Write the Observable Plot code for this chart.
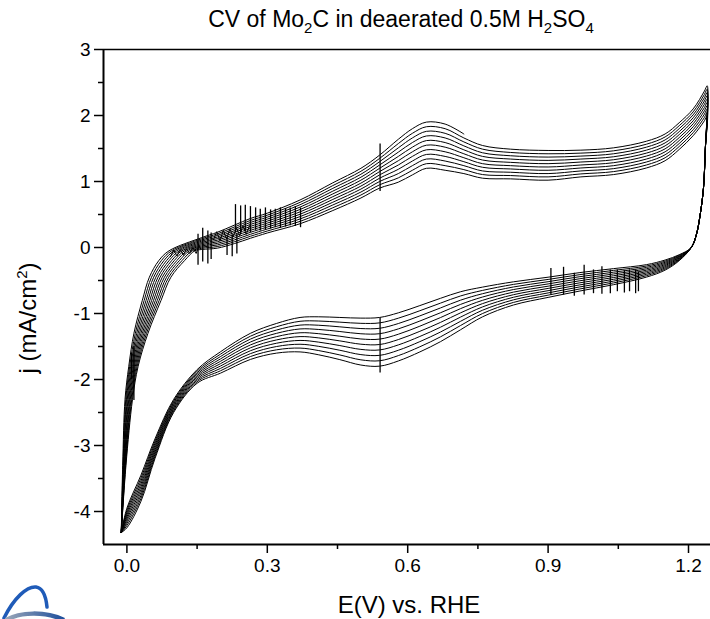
<!DOCTYPE html>
<html>
<head>
<meta charset="utf-8">
<script src="https://cdn.jsdelivr.net/npm/d3@7"></script>
<script src="https://cdn.jsdelivr.net/npm/@observablehq/plot@0.6"></script>
<style>
  html, body { margin: 0; padding: 0; background: #fff; overflow: hidden; }
  #wrap { position: relative; width: 710px; height: 619px; font-family: "Liberation Sans", Arial, sans-serif; color: #000; }
  #chart { position: absolute; left: 0; top: 0; }
  .lbl { position: absolute; white-space: nowrap; line-height: 24px; font-size: 23px; }
  #title { left: 151px; width: 500px; top: 7px; text-align: center; }
  #xlabel { left: 259px; width: 300px; top: 593px; text-align: center; font-size: 24px; }
  #ylabel { left: 28px; top: 318px; transform: translate(-50%, -50%) rotate(-90deg); font-size: 24px; }
  sub { font-size: 15px; vertical-align: -6px; line-height: 0; }
  sup { font-size: 15px; vertical-align: 9px; line-height: 0; }
  #logo { position: absolute; left: 0; top: 560px; }
</style>
</head>
<body>
<div id="wrap">
  <div id="chart"></div>
  <div id="title" class="lbl">CV of Mo<sub>2</sub>C in deaerated 0.5M H<sub>2</sub>SO<sub>4</sub></div>
  <div id="xlabel" class="lbl">E(V) vs. RHE</div>
  <div id="ylabel" class="lbl">j (mA/cm<sup>2</sup>)</div>
  <svg id="logo" width="120" height="59" viewBox="0 0 120 59">
    <defs>
      <linearGradient id="lg" x1="0" x2="1"><stop offset="0" stop-color="#9aa6b8"/><stop offset="1" stop-color="#1d4f9c"/></linearGradient>
    </defs>
    <path d="M4,58 C14,38 27,26 36,27 C43,28 46,37 47,47" fill="none" stroke="#1f5bb8" stroke-width="3.5" stroke-linecap="round"/>
    <path d="M6,60 C20,52 45,51 64,60" fill="none" stroke="url(#lg)" stroke-width="4.5"/>
  </svg>
</div>
<script>
// ---- axis ticks ----
const xTicks = [0, 0.3, 0.6, 0.9, 1.2];
const xMinorTicks = [0.15, 0.45, 0.75, 1.05];
const yTicks = [-4, -3, -2, -1, 0, 1, 2, 3];
const yMinorTicks = [-3.5, -2.5, -1.5, -0.5, 0.5, 1.5, 2.5];

// ---- cycles (c1 = last, partial cycle, highest anodic curve) ----
const cycles = ["c1","c2","c3","c4","c5","c6","c7","c8","c9","c10","c11"];

// cathodic vertex (shared)
const vertexLow = [-0.012, -4.32];

// anodic branch, steep part: one row per current level, E for each cycle
const upperSteepY = [-3.3, -2.3, -1.8, -1.3, -0.8, -0.45, -0.2, -0.05];
const upperSteepX = [
  [-0.009, -0.0083, -0.0076, -0.0069, -0.0062, -0.0055, -0.0048, -0.0041, -0.0034, -0.0027, -0.002],
  [-0.004, -0.0024, -0.0008, 0.0008, 0.0024, 0.004, 0.0056, 0.0072, 0.0088, 0.0104, 0.012],
  [0.004, 0.006, 0.008, 0.010, 0.012, 0.014, 0.016, 0.018, 0.020, 0.022, 0.024],
  [0.015, 0.018, 0.021, 0.024, 0.027, 0.030, 0.033, 0.036, 0.039, 0.042, 0.045],
  [0.033, 0.037, 0.041, 0.045, 0.049, 0.053, 0.057, 0.061, 0.065, 0.069, 0.073],
  [0.048, 0.0526, 0.0572, 0.0618, 0.0664, 0.071, 0.0756, 0.0802, 0.0848, 0.0894, 0.094],
  [0.068, 0.0735, 0.079, 0.0845, 0.090, 0.0955, 0.101, 0.1065, 0.112, 0.1175, 0.123],
  [0.090, 0.0955, 0.101, 0.1065, 0.112, 0.1175, 0.123, 0.1285, 0.134, 0.1395, 0.145]
];

// anodic branch: one row per potential, j for each cycle (null = not recorded)
const upperX = [0.16, 0.193, 0.23, 0.264, 0.3, 0.37, 0.44, 0.5, 0.54, 0.58, 0.61, 0.64, 0.68, 0.72,
                0.76, 0.82, 0.9, 0.97, 1.04, 1.11, 1.15, 1.18, 1.21, 1.234, 1.24];
const upperY = [
  [0.15, 0.132, 0.114, 0.096, 0.078, 0.06, 0.042, 0.024, 0.006, -0.012, -0.03],
  [0.23, 0.206, 0.182, 0.158, 0.134, 0.11, 0.086, 0.062, 0.038, 0.014, -0.01],
  [0.34, 0.312, 0.284, 0.256, 0.228, 0.20, 0.172, 0.144, 0.116, 0.088, 0.06],
  [0.44, 0.41, 0.38, 0.35, 0.32, 0.29, 0.26, 0.23, 0.20, 0.17, 0.14],
  [0.52, 0.49, 0.46, 0.43, 0.40, 0.37, 0.34, 0.31, 0.28, 0.25, 0.22],
  [0.72, 0.684, 0.648, 0.612, 0.576, 0.54, 0.504, 0.468, 0.432, 0.396, 0.36],
  [0.98, 0.938, 0.896, 0.854, 0.812, 0.77, 0.728, 0.686, 0.644, 0.602, 0.56],
  [1.20, 1.155, 1.11, 1.065, 1.02, 0.975, 0.93, 0.885, 0.84, 0.795, 0.75],
  [1.40, 1.35, 1.30, 1.25, 1.20, 1.15, 1.10, 1.05, 1.00, 0.95, 0.90],
  [1.64, 1.575, 1.51, 1.445, 1.38, 1.315, 1.25, 1.185, 1.12, 1.055, 0.99],
  [1.80, 1.73, 1.66, 1.59, 1.52, 1.45, 1.38, 1.31, 1.24, 1.17, 1.10],
  [1.90, 1.83, 1.76, 1.69, 1.62, 1.55, 1.48, 1.41, 1.34, 1.27, 1.20],
  [1.87, 1.80, 1.73, 1.66, 1.59, 1.52, 1.45, 1.38, 1.31, 1.24, 1.17],
  [1.72, 1.66, 1.60, 1.54, 1.48, 1.42, 1.36, 1.30, 1.24, 1.18, 1.12],
  [null, 1.545, 1.49, 1.435, 1.38, 1.325, 1.27, 1.215, 1.16, 1.105, 1.05],
  [null, 1.49, 1.44, 1.39, 1.34, 1.29, 1.24, 1.19, 1.14, 1.09, 1.04],
  [null, 1.47, 1.42, 1.37, 1.32, 1.27, 1.22, 1.17, 1.12, 1.07, 1.02],
  [null, 1.475, 1.43, 1.385, 1.34, 1.295, 1.25, 1.205, 1.16, 1.115, 1.07],
  [null, 1.51, 1.465, 1.42, 1.375, 1.33, 1.285, 1.24, 1.195, 1.15, 1.105],
  [null, 1.61, 1.565, 1.52, 1.475, 1.43, 1.385, 1.34, 1.295, 1.25, 1.205],
  [null, 1.72, 1.675, 1.63, 1.585, 1.54, 1.495, 1.45, 1.405, 1.36, 1.315],
  [null, 1.89, 1.845, 1.80, 1.755, 1.71, 1.665, 1.62, 1.575, 1.53, 1.485],
  [null, 2.10, 2.055, 2.01, 1.965, 1.92, 1.875, 1.83, 1.785, 1.74, 1.695],
  [null, 2.37, 2.32, 2.27, 2.22, 2.17, 2.12, 2.07, 2.02, 1.97, 1.92],
  [null, 2.45, 2.40, 2.35, 2.30, 2.25, 2.20, 2.15, 2.10, 2.05, 2.00]
];

// reversal at the anodic vertex (shared by all cycles)
const descentX = [1.236, 1.232, 1.225, 1.217, 1.206];
const descentY = [1.5, 0.9, 0.5, 0.2, 0.0];

// cathodic branch: one row per potential, j for cycles c2..c11
const lowerX = [1.18, 1.15, 1.11, 1.04, 0.968, 0.9, 0.826, 0.76, 0.713, 0.67, 0.626, 0.58, 0.54, 0.5,
                0.455, 0.41, 0.37, 0.32, 0.264, 0.2, 0.15, 0.1, 0.06, 0.03, 0.0];
const lowerY = [
  [-0.11, -0.12, -0.13, -0.14, -0.15, -0.16, -0.17, -0.18, -0.19, -0.20],
  [-0.19, -0.207, -0.224, -0.241, -0.258, -0.275, -0.292, -0.309, -0.326, -0.343],
  [-0.26, -0.281, -0.302, -0.323, -0.344, -0.365, -0.386, -0.407, -0.428, -0.449],
  [-0.32, -0.347, -0.374, -0.401, -0.428, -0.455, -0.482, -0.509, -0.536, -0.563],
  [-0.38, -0.411, -0.442, -0.473, -0.504, -0.535, -0.566, -0.597, -0.628, -0.659],
  [-0.45, -0.484, -0.518, -0.552, -0.586, -0.62, -0.654, -0.688, -0.722, -0.756],
  [-0.52, -0.559, -0.598, -0.637, -0.676, -0.715, -0.754, -0.793, -0.832, -0.871],
  [-0.60, -0.65, -0.70, -0.75, -0.80, -0.85, -0.90, -0.95, -1.00, -1.05],
  [-0.67, -0.734, -0.798, -0.862, -0.926, -0.99, -1.054, -1.118, -1.182, -1.246],
  [-0.77, -0.843, -0.916, -0.989, -1.062, -1.135, -1.208, -1.281, -1.354, -1.427],
  [-0.88, -0.958, -1.036, -1.114, -1.192, -1.27, -1.348, -1.426, -1.504, -1.582],
  [-0.99, -1.071, -1.152, -1.233, -1.314, -1.395, -1.476, -1.557, -1.638, -1.719],
  [-1.06, -1.142, -1.224, -1.306, -1.388, -1.47, -1.552, -1.634, -1.716, -1.798],
  [-1.07, -1.149, -1.228, -1.307, -1.386, -1.465, -1.544, -1.623, -1.702, -1.781],
  [-1.06, -1.131, -1.202, -1.273, -1.344, -1.415, -1.486, -1.557, -1.628, -1.699],
  [-1.05, -1.114, -1.178, -1.242, -1.306, -1.37, -1.434, -1.498, -1.562, -1.626],
  [-1.06, -1.118, -1.176, -1.234, -1.292, -1.35, -1.408, -1.466, -1.524, -1.582],
  [-1.15, -1.20, -1.25, -1.30, -1.35, -1.40, -1.45, -1.50, -1.55, -1.60],
  [-1.30, -1.344, -1.388, -1.432, -1.476, -1.52, -1.564, -1.608, -1.652, -1.696],
  [-1.58, -1.616, -1.652, -1.688, -1.724, -1.76, -1.796, -1.832, -1.868, -1.904],
  [-1.85, -1.873, -1.896, -1.919, -1.942, -1.965, -1.988, -2.011, -2.034, -2.057],
  [-2.30, -2.322, -2.344, -2.366, -2.388, -2.41, -2.432, -2.454, -2.476, -2.498],
  [-2.90, -2.933, -2.966, -2.999, -3.032, -3.065, -3.098, -3.131, -3.164, -3.197],
  [-3.45, -3.494, -3.538, -3.582, -3.626, -3.67, -3.714, -3.758, -3.802, -3.846],
  [-3.95, -3.983, -4.016, -4.049, -4.082, -4.115, -4.148, -4.181, -4.214, -4.247]
];

// glitches: [E, j low, j high]
const spikes = [
  [0.541, 0.85, 1.57], [0.541, -1.90, -1.07],
  [0.015, -2.32, -1.5], [0.010, -2.0, -1.6],
  [0.152, -0.27, 0.20], [0.162, -0.22, 0.29], [0.173, -0.25, 0.25], [0.180, -0.18, 0.22],
  [0.214, -0.12, 0.15], [0.225, -0.14, 0.18], [0.235, -0.10, 0.20],
  [0.232, 0.22, 0.65], [0.243, 0.20, 0.63], [0.253, 0.24, 0.64], [0.264, 0.22, 0.62],
  [0.275, 0.26, 0.60], [0.285, 0.25, 0.58], [0.296, 0.27, 0.60], [0.307, 0.28, 0.57],
  [0.317, 0.30, 0.58], [0.328, 0.29, 0.60], [0.339, 0.31, 0.59], [0.349, 0.33, 0.60],
  [0.360, 0.32, 0.62], [0.371, 0.30, 0.60],
  [0.906, -0.72, -0.32], [0.933, -0.72, -0.30], [0.956, -0.74, -0.39], [0.977, -0.72, -0.27],
  [0.997, -0.70, -0.34], [1.015, -0.71, -0.29], [1.033, -0.70, -0.34], [1.048, -0.67, -0.34],
  [1.063, -0.69, -0.35], [1.074, -0.67, -0.34], [1.087, -0.70, -0.34], [1.093, -0.67, -0.37]
];
// noisy zig-zag stretches of the anodic branch
const noiseAX = [0.093, 0.100, 0.107, 0.114, 0.121, 0.127, 0.134, 0.141, 0.148, 0.154];
const noiseAY = [-0.14, -0.04, -0.13, -0.03, -0.12, -0.02, -0.09, 0.00, -0.09, 0.03];
const noiseBX = [0.185, 0.192, 0.199, 0.206, 0.213, 0.220, 0.227, 0.234, 0.241, 0.248, 0.255, 0.262];
const noiseBY = [0.12, 0.24, 0.10, 0.26, 0.13, 0.28, 0.16, 0.30, 0.18, 0.33, 0.20, 0.33];

// ---- assemble each cycle as one closed path ----
const loopPoints = [];
cycles.forEach((c, i) => {
  const push = (x, y) => loopPoints.push({cycle: c, x, y});
  push(vertexLow[0], vertexLow[1]);
  upperSteepY.forEach((y, j) => push(upperSteepX[j][i], y));
  for (let j = 0; j < upperX.length; j++) {
    const y = upperY[j][i];
    if (y == null) break;
    push(upperX[j], y);
  }
  if (i > 0) {
    descentX.forEach((x, j) => push(x, descentY[j]));
    lowerX.forEach((x, j) => push(x, lowerY[j][i - 1]));
    push(vertexLow[0], vertexLow[1]);
  }
});
const spikeData = spikes.map(([x, y1, y2]) => ({x, y1, y2}));
const noiseA = noiseAX.map((x, i) => ({x, y: noiseAY[i]}));
const noiseB = noiseBX.map((x, i) => ({x, y: noiseBY[i]}));

const chart = Plot.plot({
  width: 710,
  height: 619,
  marginLeft: 103,
  marginRight: 0,
  marginTop: 49,
  marginBottom: 75,
  x: {domain: [-0.05, 1.247]},
  y: {domain: [-4.5, 3]},
  style: {fontFamily: "'Liberation Sans', Arial, sans-serif", fontSize: "19px", color: "#000", background: "transparent", overflow: "visible"},
  marks: [
    Plot.axisX(xTicks, {tickSize: 9, tickPadding: 5, tickFormat: d => d.toFixed(1), label: null, strokeWidth: 1.5}),
    Plot.axisX(xMinorTicks, {tickSize: 5, tickFormat: () => "", label: null, strokeWidth: 1.5}),
    Plot.axisY(yTicks, {tickSize: 9, tickPadding: 4, tickFormat: d => String(d), label: null, strokeWidth: 1.5}),
    Plot.axisY(yMinorTicks, {tickSize: 5, tickFormat: () => "", label: null, strokeWidth: 1.5}),
    Plot.line(loopPoints, {x: "x", y: "y", z: "cycle", stroke: "#000", strokeWidth: 1, curve: "catmull-rom"}),
    Plot.line(noiseA, {x: "x", y: "y", stroke: "#000", strokeWidth: 1}),
    Plot.line(noiseB, {x: "x", y: "y", stroke: "#000", strokeWidth: 1}),
    Plot.ruleX(spikeData, {x: "x", y1: "y1", y2: "y2", stroke: "#000", strokeWidth: 1.3}),
    Plot.ruleY([3], {stroke: "#000", strokeWidth: 1.5}),
    Plot.ruleY([-4.5], {stroke: "#000", strokeWidth: 2}),
    Plot.ruleX([-0.05], {stroke: "#000", strokeWidth: 2})
  ]
});
document.getElementById("chart").appendChild(chart);
</script>
</body>
</html>
